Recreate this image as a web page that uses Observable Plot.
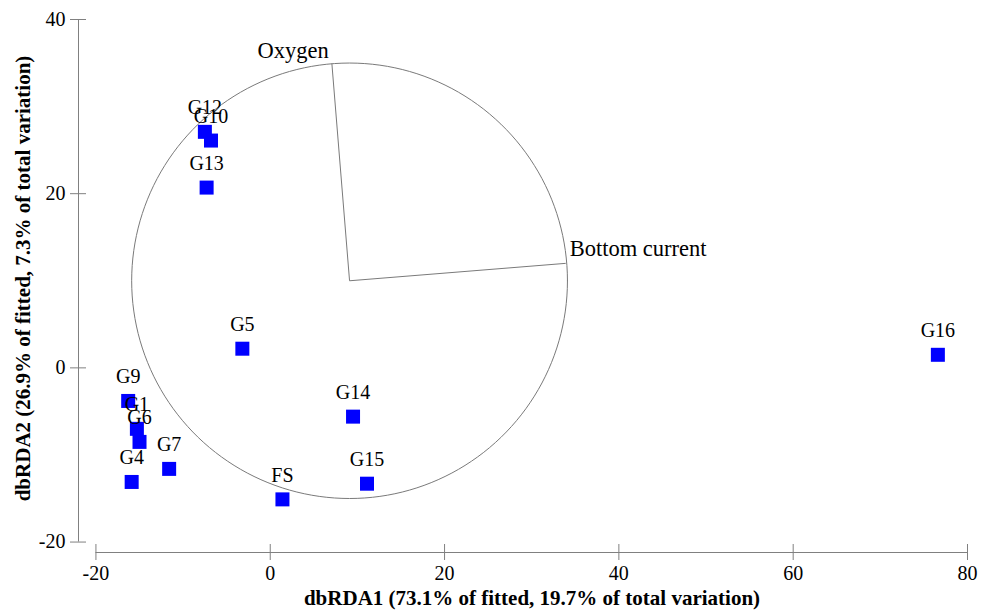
<!DOCTYPE html>
<html>
<head>
<meta charset="utf-8">
<script src="https://cdn.jsdelivr.net/npm/d3@7"></script>
<script src="https://cdn.jsdelivr.net/npm/@observablehq/plot@0.6"></script>
<style>
  html, body { margin: 0; padding: 0; background: #fff; }
  #chart { width: 982px; height: 614px; }
  #chart svg, #chart svg text { font-family: "Liberation Serif", "Times New Roman", serif !important; }
</style>
</head>
<body>
<div id="chart"></div>
<script>
// Sample scores
const sites = ["G12","G10","G13","G5","G9","G1","G6","G7","G4","FS","G14","G15","G16"];
const rda1  = [-7.5, -6.8, -7.3, -3.2, -16.3, -15.3, -15.0, -11.6, -15.9, 1.4, 9.5, 11.1, 76.6];
const rda2  = [27.1, 26.1, 20.7, 2.2, -3.8, -7.0, -8.5, -11.6, -13.1, -15.1, -5.6, -13.3, 1.5];

// Predictor vectors (end points) and correlation circle
const vectorNames = ["Oxygen", "Bottom current"];
const vectorX = [7.07, 33.9];
const vectorY = [34.95, 12.0];
const circleCenter = [9.1, 10.0];
const circleRadius = 25;

// Axis ticks
const xTicks = [-20, 0, 20, 40, 60, 80];
const yTicks = [-20, 0, 20, 40];

const xTitle = "dbRDA1 (73.1% of fitted, 19.7% of total variation)";
const yTitle = "dbRDA2 (26.9% of fitted, 7.3% of total variation)";

const points = sites.map((s, i) => ({site: s, x: rda1[i], y: rda2[i]}));
const vectors = vectorNames.map((n, i) => ({name: n, x1: circleCenter[0], y1: circleCenter[1], x2: vectorX[i], y2: vectorY[i]}));
const circle = d3.range(0, 361, 2).map(a => ({
  x: circleCenter[0] + circleRadius * Math.cos(a * Math.PI / 180),
  y: circleCenter[1] + circleRadius * Math.sin(a * Math.PI / 180)
}));

const xAxisAt = -21.2; // y position of the detached x axis line
const yAxisAt = -22;   // x position of the detached y axis line
const axisColor = "#808080";
const serif = "Liberation Serif";

const chart = Plot.plot({
  width: 982,
  height: 614,
  marginLeft: 78,
  marginRight: 15,
  marginTop: 19,
  marginBottom: 62,
  x: {domain: [yAxisAt, 80], axis: null},
  y: {domain: [xAxisAt, 40], axis: null},
  style: {fontFamily: serif, fontSize: "20px", background: "#fff", color: "#000"},
  marks: [
    // y axis
    Plot.ruleX([yAxisAt], {y1: yTicks[0], y2: yTicks[yTicks.length - 1], stroke: axisColor}),
    Plot.ruleY(yTicks, {x1: yAxisAt, x2: yAxisAt, insetLeft: -8, insetRight: -8, stroke: axisColor}),
    Plot.text(yTicks, {x: yAxisAt, y: d => d, text: d => String(d), textAnchor: "end", dx: -13, fontSize: 20, fontFamily: serif}),
    // x axis
    Plot.ruleY([xAxisAt], {x1: xTicks[0], x2: xTicks[xTicks.length - 1], stroke: axisColor}),
    Plot.ruleX(xTicks, {y1: xAxisAt, y2: xAxisAt, insetTop: -8, insetBottom: -8, stroke: axisColor}),
    Plot.text(xTicks, {x: d => d, y: xAxisAt, text: d => String(d), dy: 21, fontSize: 20, fontFamily: serif}),
    // titles
    Plot.text([xTitle], {frameAnchor: "bottom", lineAnchor: "middle", textAnchor: "middle", dy: 46, dx: 9, fontWeight: "bold", fontSize: 21, fontFamily: serif}),
    Plot.text([yTitle], {frameAnchor: "left", lineAnchor: "middle", textAnchor: "middle", rotate: -90, dx: -55, dy: -7.5, fontWeight: "bold", fontSize: 21, fontFamily: serif}),
    // correlation circle and vectors
    Plot.line(circle, {x: "x", y: "y", stroke: "#7a7a7a", strokeWidth: 1}),
    Plot.link(vectors, {x1: "x1", y1: "y1", x2: "x2", y2: "y2", stroke: "#7a7a7a", strokeWidth: 1}),
    Plot.text(vectors.slice(0, 1), {x: "x2", y: "y2", text: "name", textAnchor: "end", dx: -3, dy: -13, fontSize: 22.5, fontFamily: serif}),
    Plot.text(vectors.slice(1), {x: "x2", y: "y2", text: "name", textAnchor: "start", dx: 4, dy: -15, fontSize: 22.5, fontFamily: serif}),
    // samples
    Plot.dot(points, {x: "x", y: "y", symbol: "square", r: 7.9, fill: "#0000ff", stroke: "none"}),
    Plot.text(points, {x: "x", y: "y", text: "site", dy: -24, fontSize: 20, fontFamily: serif})
  ]
});
document.getElementById("chart").appendChild(chart);
</script>
</body>
</html>
